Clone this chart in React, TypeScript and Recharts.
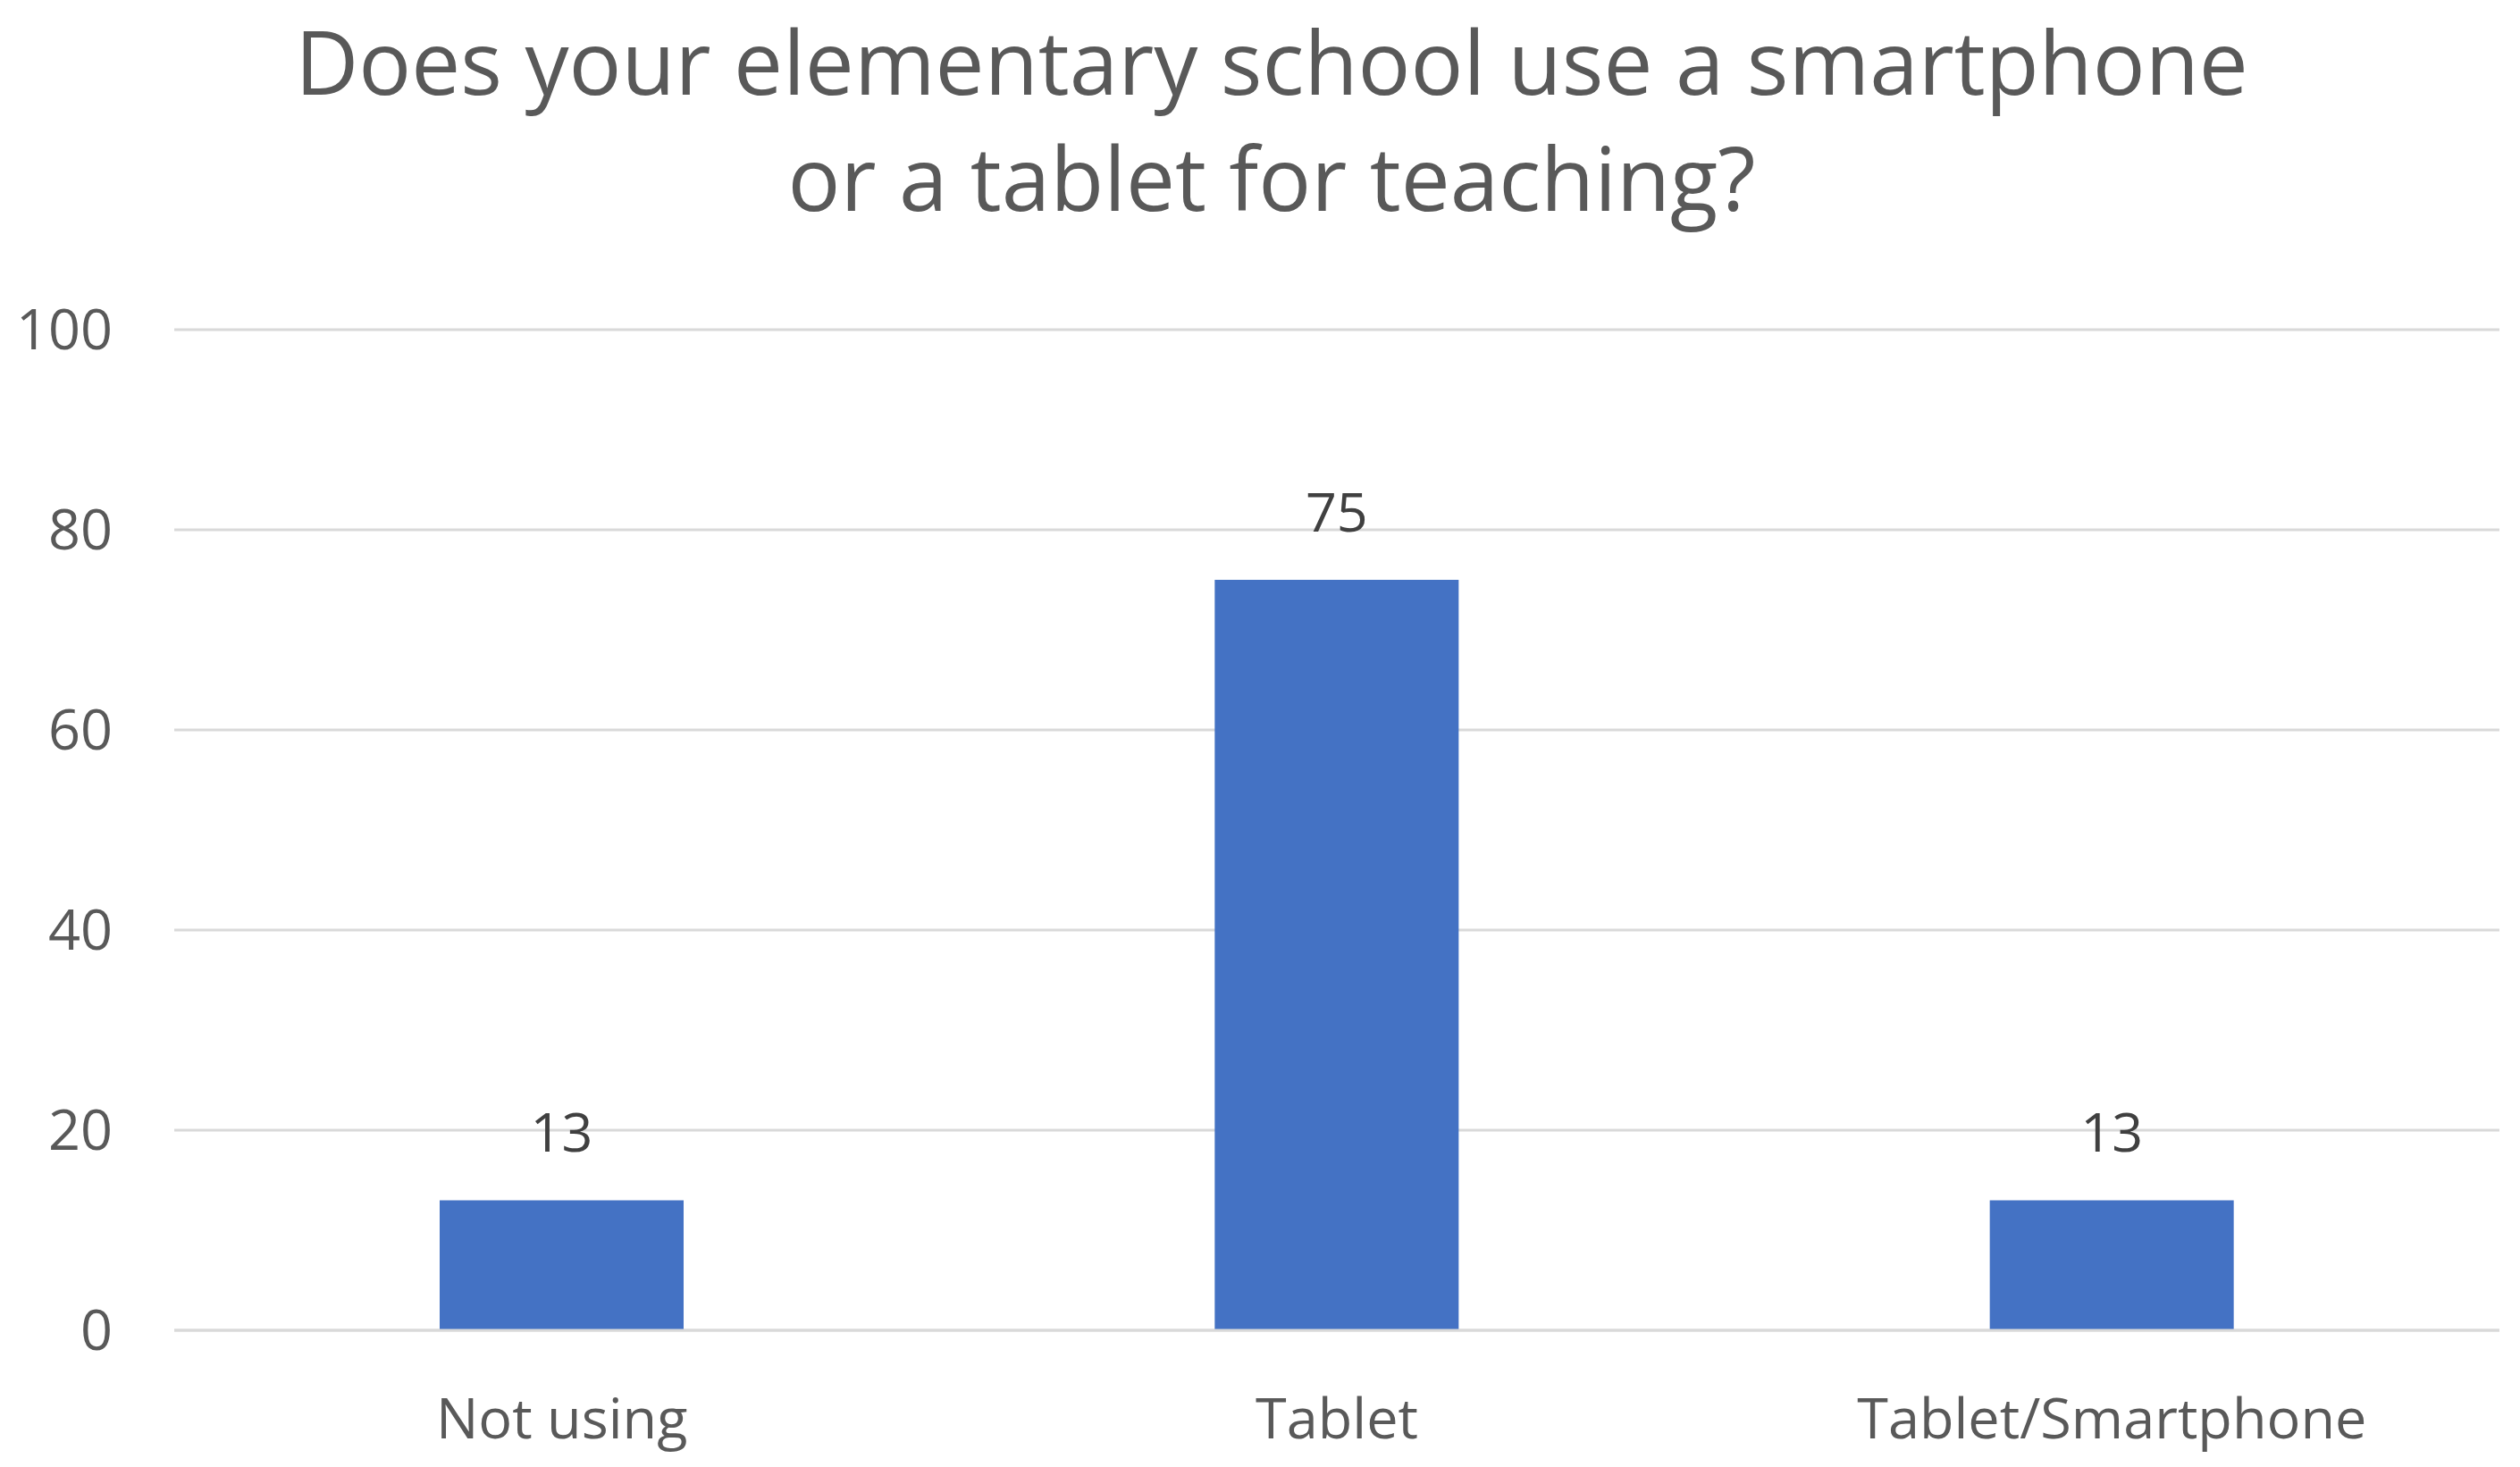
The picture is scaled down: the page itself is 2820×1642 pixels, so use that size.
import { BarChart, Bar, XAxis, YAxis, CartesianGrid, LabelList } from "recharts";

const categories = ["Not using", "Tablet", "Tablet/Smartphone"];
const schools = [13, 75, 13];
const yTicks = [0, 20, 40, 60, 80, 100];
const titleLines = [
  "Does your elementary school use a smartphone",
  "or a tablet for teaching?",
];

const data = categories.map((name, i) => ({ name, value: schools[i] }));

const FONT = "'Open Sans', sans-serif";
// per-line heights so the baselines land near where the reference has them
const titleLineHeights = [136, 124];

export default function App() {
  return (
    <div
      style={{
        position: "absolute",
        left: 0,
        top: 0,
        width: 2820,
        height: 1642,
        background: "#ffffff",
        fontFamily: FONT,
      }}
    >
      <div
        style={{
          position: "absolute",
          left: 0,
          top: 0,
          width: 2846,
          textAlign: "center",
          fontSize: 98,
          color: "#595959",
        }}
      >
        {titleLines.map((t, i) => (
          <div key={t} style={{ lineHeight: `${titleLineHeights[i]}px` }}>
            {t}
          </div>
        ))}
      </div>
      <BarChart
        width={2820}
        height={1642}
        data={data}
        margin={{ top: 369, right: 23, left: 0, bottom: 0 }}
      >
        <CartesianGrid vertical={false} stroke="#d9d9d9" strokeWidth={3} />
        <XAxis
          dataKey="name"
          height={153}
          axisLine={{ stroke: "#d9d9d9", strokeWidth: 3 }}
          tickLine={false}
          tickMargin={70}
          tick={{ fill: "#595959", fontSize: 63, fontFamily: FONT }}
        />
        <YAxis
          width={195}
          domain={[0, 100]}
          ticks={yTicks}
          axisLine={false}
          tickLine={false}
          tickMargin={63}
          tick={{ fill: "#595959", fontSize: 63, fontFamily: FONT }}
        />
        <Bar
          dataKey="value"
          fill="#4472c4"
          barSize={273}
          isAnimationActive={false}
        >
          <LabelList
            dataKey="value"
            position="top"
            offset={54}
            fill="#404040"
            fontSize={61}
            fontFamily={FONT}
          />
        </Bar>
      </BarChart>
    </div>
  );
}
